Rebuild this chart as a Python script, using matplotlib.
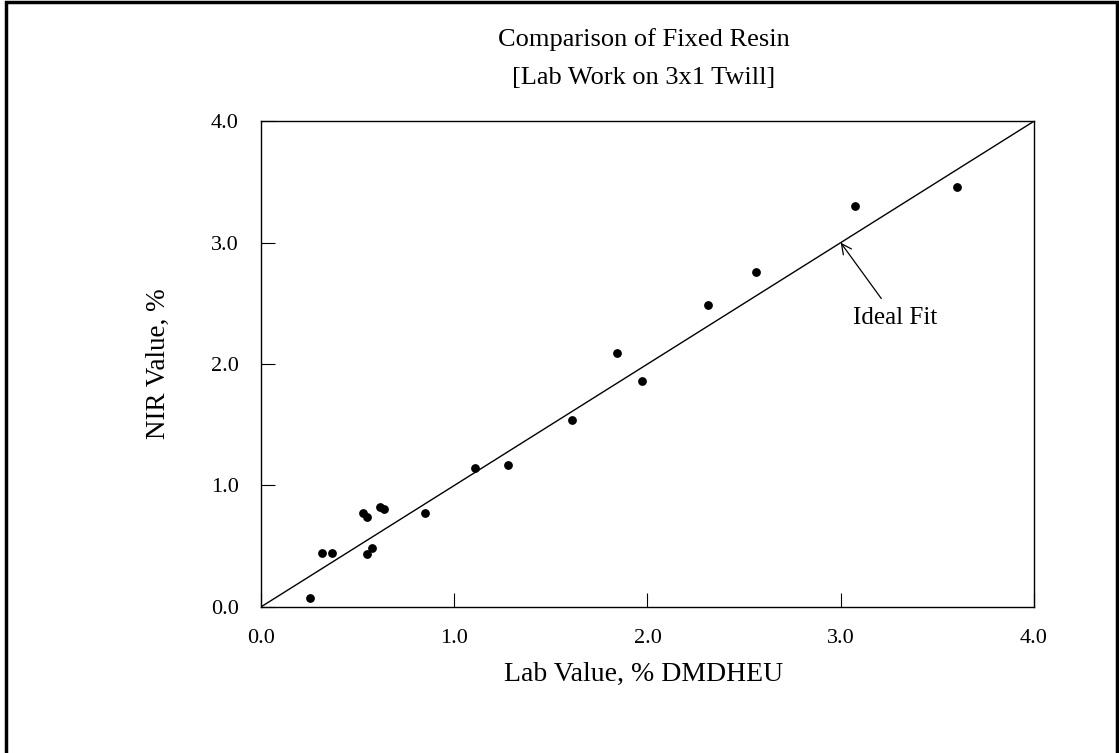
import numpy as np
import matplotlib.pyplot as plt
from matplotlib.patches import Rectangle

# Lab vs NIR resin values
lab_value = [0.255, 0.317, 0.366, 0.528, 0.547, 0.547, 0.576, 0.616, 0.636,
             0.847, 1.109, 1.277, 1.609, 1.841, 1.970, 2.311, 2.561, 3.072, 3.603]
nir_value = [0.077, 0.44, 0.44, 0.776, 0.74, 0.434, 0.483, 0.826, 0.81,
             0.77, 1.14, 1.17, 1.54, 2.09, 1.86, 2.49, 2.76, 3.30, 3.46]
ideal_line = [0.0, 4.0]
tick_vals = [0.0, 1.0, 2.0, 3.0, 4.0]
tick_labels = ["0.0", "1.0", "2.0", "3.0", "4.0"]

plt.rcParams['font.family'] = ['Liberation Serif', 'DejaVu Serif']

fig = plt.figure(figsize=(11.19, 7.53), dpi=100)
ax = fig.add_axes([0.2332, 0.194, 0.6908, 0.645])

ax.plot(ideal_line, ideal_line, color='black', linewidth=1.0)
ax.scatter(lab_value, nir_value, s=28, color='black', zorder=3)

ax.set_xlim(0, 4)
ax.set_ylim(0, 4)
ax.set_xticks(tick_vals)
ax.set_xticklabels(tick_labels)
ax.set_yticks(tick_vals)
ax.set_yticklabels(tick_labels)
ax.tick_params(direction='in', length=10, width=0.8, labelsize=16, pad=16)
ax.tick_params(axis='y', pad=16)
for sp in ax.spines.values():
    sp.set_linewidth(1.0)

ax.set_xlabel("Lab Value, % DMDHEU", fontsize=20)
ax.set_ylabel("NIR Value, %", fontsize=19.5)
ax.xaxis.set_label_coords(0.495, -0.113)
ax.yaxis.set_label_coords(-0.117, 0.5)

ax.annotate("Ideal Fit", xy=(3.0, 3.0), xytext=(3.283, 2.38),
            ha='center', va='center', fontsize=18,
            arrowprops=dict(arrowstyle='->', color='black', lw=0.9,
                            shrinkA=5, shrinkB=0))

fig.text(0.575, 0.947, "Comparison of Fixed Resin", ha='center', va='center', fontsize=19)
fig.text(0.575, 0.896, "[Lab Work on 3x1 Twill]", ha='center', va='center', fontsize=19)

# outer frame around the whole figure
fig.patches.append(Rectangle((0.005, -0.01), 0.993, 1.007, transform=fig.transFigure,
                             fill=False, edgecolor='black', linewidth=2.5))

fig.savefig("out.png", dpi=100)
